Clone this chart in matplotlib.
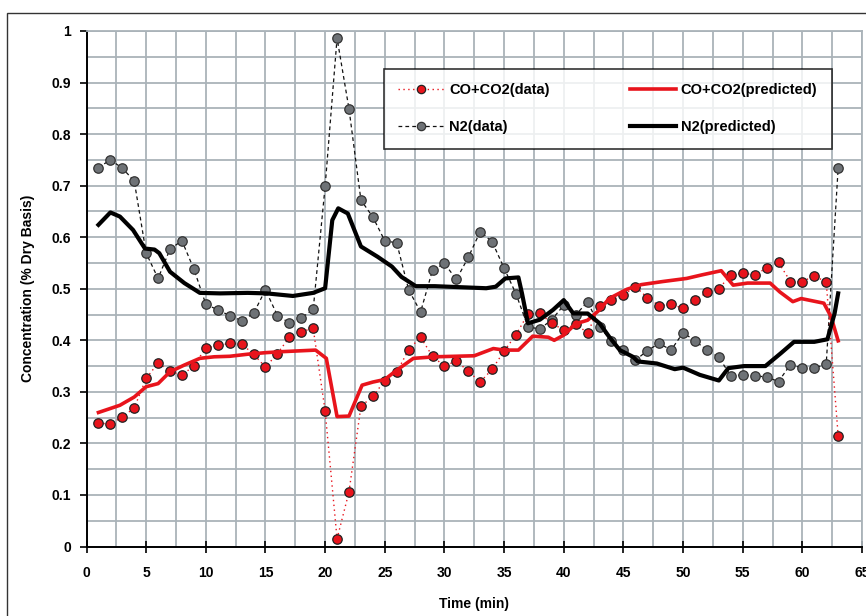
import matplotlib
matplotlib.use("Agg")
import matplotlib.pyplot as plt
from matplotlib import font_manager
from matplotlib.patches import Rectangle

# measured data, one point per minute
time_min = list(range(1, 64))
co_co2_data = [0.239, 0.238, 0.251, 0.269, 0.326, 0.356, 0.340, 0.332, 0.351, 0.385,
               0.390, 0.394, 0.393, 0.373, 0.348, 0.374, 0.406, 0.417, 0.423, 0.263,
               0.015, 0.106, 0.272, 0.291, 0.322, 0.338, 0.382, 0.406, 0.369, 0.350,
               0.360, 0.340, 0.319, 0.344, 0.379, 0.411, 0.451, 0.452, 0.433, 0.420,
               0.432, 0.414, 0.466, 0.478, 0.488, 0.504, 0.483, 0.467, 0.470, 0.462,
               0.478, 0.493, 0.500, 0.527, 0.530, 0.527, 0.540, 0.551, 0.514, 0.514,
               0.525, 0.513, 0.215]
n2_data = [0.735, 0.750, 0.734, 0.709, 0.569, 0.520, 0.577, 0.593, 0.538, 0.470,
           0.459, 0.448, 0.438, 0.452, 0.498, 0.448, 0.434, 0.443, 0.460, 0.699,
           0.986, 0.849, 0.672, 0.639, 0.593, 0.589, 0.498, 0.455, 0.536, 0.549,
           0.518, 0.561, 0.611, 0.591, 0.540, 0.490, 0.426, 0.422, 0.440, 0.468,
           0.449, 0.475, 0.426, 0.399, 0.381, 0.361, 0.380, 0.394, 0.381, 0.415,
           0.399, 0.381, 0.367, 0.331, 0.333, 0.331, 0.329, 0.320, 0.353, 0.346,
           0.346, 0.354, 0.734]

# model curves
co_pred_t = [1, 2.8, 4, 5, 6, 7, 8.2, 9.5, 10.7, 12, 13.5, 15, 16.4, 19.2, 20.1, 21, 22,
             23.1, 24, 25, 26, 27.4, 29.2, 32.5, 34.1, 35, 36.2, 37.4, 38.7, 39.2, 40, 41,
             42, 43, 43.8, 45.3, 46.5, 48.3, 50.3, 51.6, 53.2, 54.2, 55.4, 57.3, 58.1,
             59.2, 59.9, 61.8, 62.4, 63]
co_pred = [0.26, 0.274, 0.29, 0.31, 0.316, 0.339, 0.352, 0.365, 0.368, 0.369, 0.373,
           0.376, 0.378, 0.381, 0.365, 0.252, 0.253, 0.313, 0.319, 0.324, 0.342, 0.365,
           0.368, 0.37, 0.384, 0.381, 0.381, 0.408, 0.406, 0.40, 0.41, 0.432, 0.439,
           0.459, 0.481, 0.499, 0.508, 0.514, 0.520, 0.527, 0.535, 0.507, 0.511, 0.511,
           0.494, 0.475, 0.481, 0.472, 0.446, 0.399]
n2_pred_t = [1, 2, 2.8, 3.9, 4.9, 5.7, 6.1, 7, 8.2, 9.5, 11.2, 13.5, 15.1, 17.3, 19, 20,
             20.6, 21.1, 21.9, 23, 24.4, 25.6, 26.4, 27.6, 29.2, 33.5, 34.3, 35.1, 36.2,
             36.5, 37, 38, 39.1, 40, 40.8, 42, 43, 43.8, 44.7, 45.8, 46.2, 47.8, 49.3, 50,
             51.4, 53, 53.8, 55.1, 56.9, 58.2, 59.3, 61, 62.1, 62.7, 63]
n2_pred = [0.624, 0.648, 0.640, 0.614, 0.578, 0.576, 0.569, 0.533, 0.511, 0.492, 0.491,
           0.492, 0.491, 0.486, 0.492, 0.501, 0.633, 0.656, 0.646, 0.582, 0.562, 0.543,
           0.523, 0.505, 0.505, 0.501, 0.504, 0.520, 0.522, 0.491, 0.433, 0.44, 0.459,
           0.478, 0.452, 0.452, 0.433, 0.407, 0.381, 0.368, 0.359, 0.355, 0.344, 0.347,
           0.333, 0.322, 0.346, 0.350, 0.350, 0.375, 0.397, 0.397, 0.402, 0.452, 0.491]

x_ticks = list(range(0, 66, 5))
y_ticks = [i / 10 for i in range(11)]

names = {f.name for f in font_manager.fontManager.ttflist}
font = "Liberation Sans Narrow" if "Liberation Sans Narrow" in names else "Liberation Sans"
plt.rcParams['font.family'] = [font, 'DejaVu Sans']
plt.rcParams['font.weight'] = 'bold'
plt.rcParams['axes.labelweight'] = 'bold'

red = '#e8141c'
grey = '#6e7276'
grid_c = '#aab3b9'

fig = plt.figure(figsize=(8.66, 6.16), dpi=100)
ax = fig.add_axes([0.0999, 0.1128, 0.8955, 0.8369])

# outer chart border (right and bottom edges fall outside the picture)
fig.patches.append(Rectangle((7 / 866, -0.01), 1.0, 1 - 12.7 / 616 + 0.01, transform=fig.transFigure,
                             fill=False, edgecolor='#333333', linewidth=1.0))

ax.plot(time_min, co_co2_data, linestyle=(0, (1, 2.5)), color=red, linewidth=1.0,
        marker='o', markersize=6.8, markerfacecolor=red, markeredgecolor='#222222',
        markeredgewidth=0.9, label='CO+CO2(data)', zorder=4)
ax.plot(time_min, n2_data, linestyle=(0, (3, 2.5)), color='#111111', linewidth=0.9,
        marker='o', markersize=6.8, markerfacecolor=grey, markeredgecolor='#333333',
        markeredgewidth=0.9, label='N2(data)', zorder=3)
ax.plot(co_pred_t, co_pred, color=red, linewidth=2.6, label='CO+CO2(predicted)', zorder=5)
ax.plot(n2_pred_t, n2_pred, color='black', linewidth=3.0, label='N2(predicted)', zorder=5)

ax.set_xlim(0, 65)
ax.set_ylim(0, 1)
ax.set_xticks(x_ticks)
ax.set_xticklabels([str(v) for v in x_ticks])
ax.set_yticks(y_ticks)
ax.set_yticklabels(['0' if v == 0 else ('1' if v == 1 else f'{v:.1f}') for v in y_ticks])
ax.set_xticks([v + 2.5 for v in x_ticks[:-1]], minor=True)
ax.set_yticks([v + 0.05 for v in y_ticks[:-1]], minor=True)
ax.grid(True, which='both', color=grid_c, linewidth=1.3)
ax.set_axisbelow(True)
ax.tick_params(axis='x', which='major', direction='inout', length=8, width=1.2, labelsize=10, pad=10)
ax.tick_params(axis='y', which='major', direction='out', length=5, width=1.2, labelsize=10, pad=6)
ax.tick_params(which='minor', length=0)

for side in ['left', 'bottom']:
    ax.spines[side].set_color('black')
    ax.spines[side].set_linewidth(1.4)
for side in ['top', 'right']:
    ax.spines[side].set_color(grid_c)
    ax.spines[side].set_linewidth(1.3)

ax.set_xlabel('Time (min)', fontsize=10, fontweight='bold', labelpad=12)
ax.set_ylabel('Concentration (% Dry Basis)', fontsize=10, fontweight='bold', labelpad=12)

h, l = ax.get_legend_handles_labels()
leg = ax.legend(h, l, ncol=2,
                bbox_to_anchor=(0.383, 0.771, 0.578, 0.18), loc='lower left', mode='expand',
                borderaxespad=0, frameon=True, fancybox=False, fontsize=10.5,
                handlelength=3.2, handletextpad=0.3, labelspacing=1.6, borderpad=1.0,
                columnspacing=6)
leg.get_frame().set_edgecolor('black')
leg.get_frame().set_linewidth(1.2)
for mh in leg.legend_handles[:2]:
    mh.set_markersize(6)

fig.savefig('out.png', dpi=100)
